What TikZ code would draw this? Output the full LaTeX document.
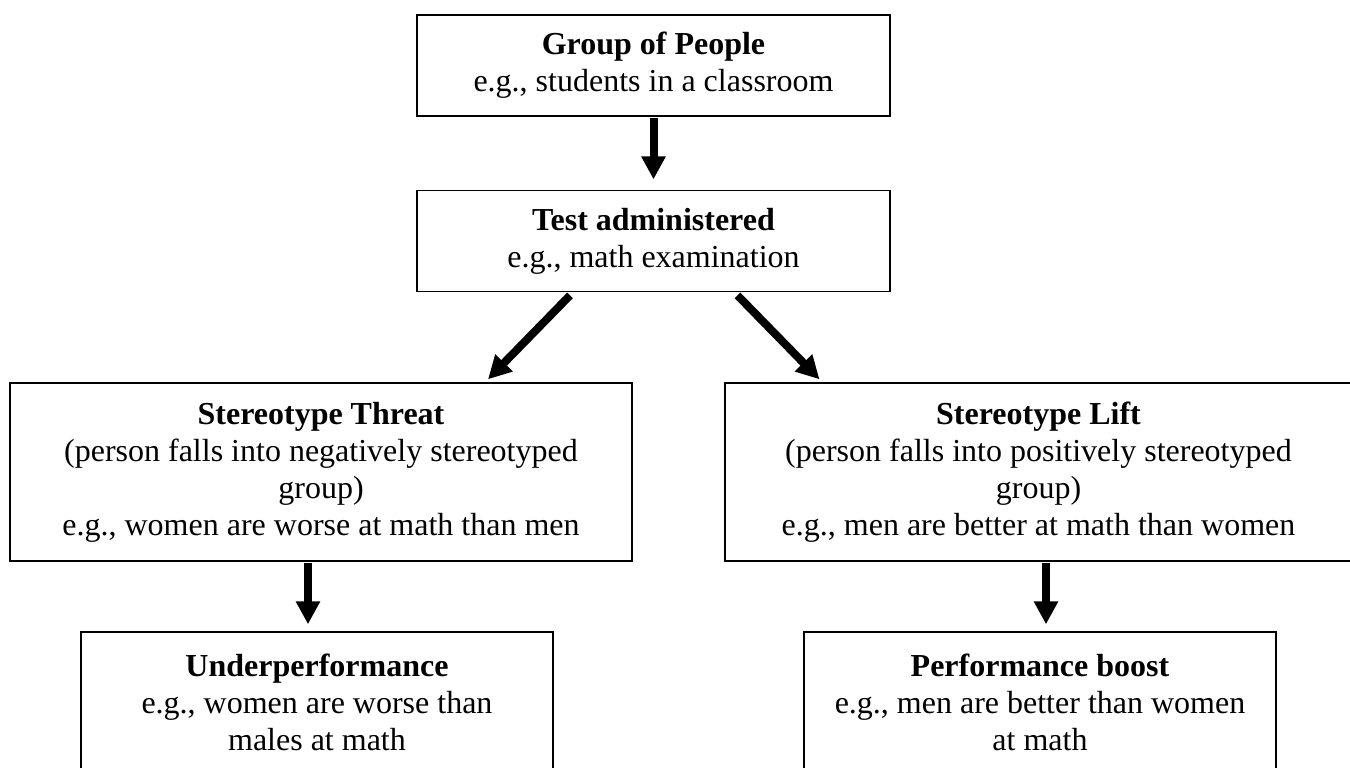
\documentclass[tikz,border=0pt]{standalone}
\usepackage{fontspec}
\setmainfont{Liberation Serif}
\usetikzlibrary{arrows.meta}

\begin{document}
\begin{tikzpicture}[x=0.5pt, y=-0.5pt,
    font={\fontsize{16}{18.5}\selectfont},
    box/.style={draw, line width=0.7pt, align=center, inner sep=0pt},
    flow/.style={-{Triangle[width=11.5pt,length=11.5pt]}, line width=4pt}]
  \useasboundingbox (0,0) rectangle (1350,767);
  \clip (0,0) rectangle (1350,767);

  \node[box, minimum width=236.5pt, minimum height=50.5pt] (group) at (653.5,65.5)
    {\textbf{Group of People}\\e.g., students in a classroom};
  \node[box, minimum width=236.5pt, minimum height=50.5pt] (test) at (653.5,241.2)
    {\textbf{Test administered}\\e.g., math examination};

  \node[box, minimum width=311pt, minimum height=89pt] (threat) at (321,472)
    {\textbf{Stereotype Threat}\\(person falls into negatively stereotyped\\group)\\e.g., women are worse at math than men};
  \node[box, minimum width=313.5pt, minimum height=89pt] (lift) at (1038.5,472)
    {\textbf{Stereotype Lift}\\(person falls into positively stereotyped\\group)\\e.g., men are better at math than women};

  \node[box, minimum width=236pt, minimum height=70.5pt] (under) at (317,702.5)
    {\textbf{Underperformance}\\e.g., women are worse than\\males at math};
  \node[box, minimum width=236pt, minimum height=70.5pt] (boost) at (1040,702.5)
    {\textbf{Performance boost}\\e.g., men are better than women\\at math};

  \draw[flow] ([yshift=-0.5pt]group.south) -- ([yshift=5.3pt]test.north);
  \draw[flow] ([xshift=-41.75pt,yshift=-1.5pt]test.south) -- ([xshift=83.5pt,yshift=1.5pt]threat.north);
  \draw[flow] ([xshift=42pt,yshift=-1.5pt]test.south) -- ([xshift=-109.5pt,yshift=1.5pt]lift.north);
  \draw[flow] ([xshift=-6.5pt,yshift=-0.8pt]threat.south) -- ([xshift=-4.5pt,yshift=3.5pt]under.north);
  \draw[flow] ([xshift=3.75pt,yshift=-0.8pt]lift.south) -- ([xshift=3pt,yshift=3.5pt]boost.north);
\end{tikzpicture}
\end{document}
